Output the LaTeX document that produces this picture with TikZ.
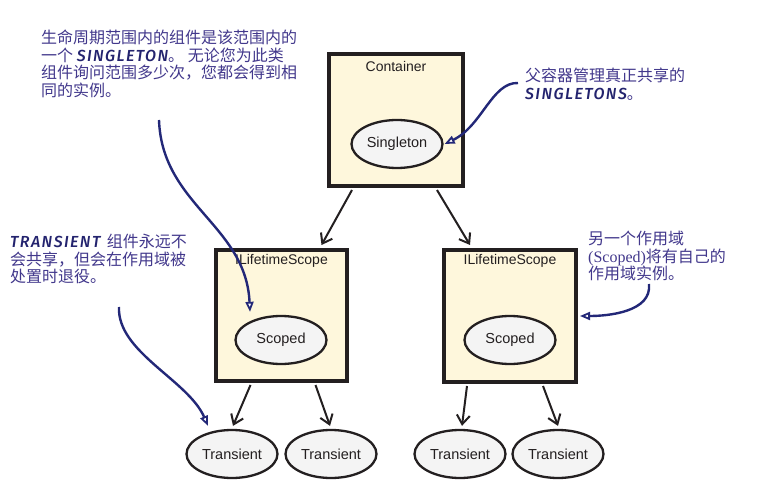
\documentclass[tikz,border=0pt]{standalone}
\usepackage{fontspec}
\setmainfont{Liberation Sans}
\newfontfamily\cjk{Noto Sans CJK SC}
\newfontfamily\comic[LetterSpace=9]{Fira Sans Medium}
\newfontfamily\serifx{Liberation Serif}
\usetikzlibrary{arrows.meta,calc,shapes.geometric}
\definecolor{boxfill}{HTML}{FEF7DC}
\definecolor{ellfill}{HTML}{F4F4F4}
\definecolor{ink}{HTML}{231F20}
\definecolor{note}{RGB}{66,56,140}
\definecolor{notedark}{RGB}{35,35,110}
\definecolor{callout}{RGB}{35,40,120}
\newcommand{\capsx}[1]{{\comic\itshape\color{notedark}#1}}
\begin{document}
\begin{tikzpicture}[x=1pt,y=-1pt,
  scopebox/.style={draw=ink,fill=boxfill,line width=4pt,minimum width=129pt,minimum height=129pt,inner sep=0pt},
  boxlabel/.style={anchor=north,font=\fontsize{14}{16}\selectfont,text=ink,inner sep=0pt},
  obj/.style={ellipse,draw=ink,fill=ellfill,line width=2.3pt,minimum width=91pt,minimum height=48pt,inner sep=0pt,font=\fontsize{14.5}{16}\selectfont,text=ink},
  dep/.style={draw=ink,line width=2pt,-{Straight Barb[length=9pt,width=13pt,line width=2pt]}},
  note/.style={anchor=north west,inner sep=0pt,align=left,text=note,font=\cjk\fontsize{16}{17.5}\selectfont},
  callarrow/.style={draw=callout,line width=2.4pt,-{Triangle[open,length=10pt,width=8pt,line width=1.8pt,fill=white]}}
]
\useasboundingbox (0,0) rectangle (769,489);
\fill[white] (0,0) rectangle (769,489);

% boxes
\node[scopebox,minimum width=134pt,minimum height=132pt] (cont) at (396,120) {};
\node[boxlabel] (contlbl) at ($(cont.north)+(0,9)$) {Container};
\node[obj] (single) at (397,144) {Singleton};

\node[scopebox,minimum width=131pt,minimum height=131pt] (ls1) at (281.5,315.5) {};
\node[boxlabel] (ls1lbl) at ($(ls1.north)+(0,6)$) {ILifetimeScope};
\node[obj] (sc1) at (281,340) {Scoped};

\node[scopebox,minimum width=132pt,minimum height=132pt] (ls2) at (510,316) {};
\node[boxlabel] (ls2lbl) at ($(ls2.north)+(0,6)$) {ILifetimeScope};
\node[obj] (sc2) at (510,340) {Scoped};

% transients
\node[obj] (t1) at (232,454) {Transient};
\node[obj] (t2) at (331,454) {Transient};
\node[obj] (t3) at (460,454) {Transient};
\node[obj] (t4) at (558,454) {Transient};

% dependency arrows
\draw[dep] ($(cont.south)+(-44,2)$) -- ($(ls1.north)+(40,-3)$);
\draw[dep] ($(cont.south)+(41,2)$) -- ($(ls2.north)+(-40,-3)$);
\draw[dep] ($(ls1.south)+(-31,2)$) -- ($(t1.north)+(1,-3)$);
\draw[dep] ($(ls1.south)+(34,2)$) -- ($(t2.north)+(-1,-3)$);
\draw[dep] ($(ls2.south)+(-43,2)$) -- ($(t3.north)+(2,-3)$);
\draw[dep] ($(ls2.south)+(33,2)$) -- ($(t4.north)+(0,-3)$);

% notes
\node[note] (n1) at (41,30) {生命周期范围内的组件是该范围内的\\一个 \capsx{SINGLETON}。 无论您为此类\\组件询问范围多少次，您都会得到相\\同的实例。};
\node[note] (n2) at (525,68) {父容器管理真正共享的\\\capsx{SINGLETONS}。};
\node[note] (n3) at (10,234) {\capsx{TRANSIENT}\hspace{3pt} 组件永远不\\会共享，但会在作用域被\\处置时退役。};
\node[note] (n4) at (588,231) {另一个作用域\\{\serifx (Scoped)}将有自己的\\作用域实例。};

% callout arrows
\coordinate (c1) at (159,120);
\coordinate (c2) at (518,83);
\coordinate (c3) at (119,307);
\coordinate (c4) at (649,284);
\draw[callarrow] (c1) .. controls (162,205) and (246,225) .. ($(sc1.north)+(-31,-3)$);
\draw[callarrow] (c2) .. controls (492,82) and (482,126) .. ($(single.east)+(1,0)$);
\draw[callarrow] (c3) .. controls (117,352) and (188,380) .. ($(t1.north)+(-24,-3)$);
\draw[callarrow] (c4) .. controls (652,312) and (608,316) .. ($(ls2.east)+(2,0)$);
\end{tikzpicture}
\end{document}
